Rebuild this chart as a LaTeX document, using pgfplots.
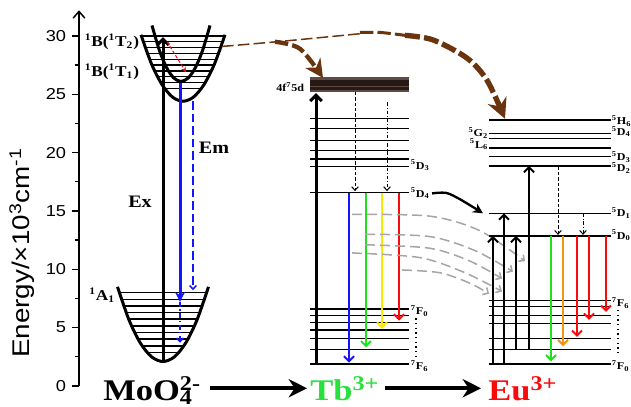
\documentclass[border=0pt]{standalone}
\usepackage{fontspec}
\setmainfont{Liberation Serif}[FakeStretch=1.15]
\setsansfont{Liberation Sans}[FakeStretch=1.15]
\usepackage{pgfplots}
\pgfplotsset{compat=1.18}
\usetikzlibrary{arrows.meta}
\definecolor{brn}{RGB}{105,52,14}
\definecolor{tbg}{RGB}{40,225,60}
\definecolor{myyel}{RGB}{255,232,0}
\definecolor{myorg}{RGB}{240,150,20}
\definecolor{mygrn}{RGB}{30,225,30}
\definecolor{myblue}{RGB}{20,20,255}
\definecolor{myred}{RGB}{250,10,10}
\definecolor{banddk}{RGB}{38,24,20}
\definecolor{bandlt}{RGB}{95,75,70}
\definecolor{gcurve}{RGB}{165,165,165}
\newcommand{\st}[3]{\textsuperscript{#1}#2\textsubscript{#3}}
\tikzset{
  barb/.style={-{Straight Barb[length=3pt,width=6pt]}},
  sbarb/.style={-{Straight Barb[length=2.2pt,width=4pt]}},
  lvl/.style={black, line width=0.85pt},
  lab/.style={font=\fontsize{6.3}{7}\selectfont\bfseries, inner sep=0.3pt},
}
\begin{document}
\begin{tikzpicture}
\begin{axis}[
  x=0.6pt, y=7pt,
  xmin=79, xmax=631, ymin=0, ymax=32.2,
  axis x line=none, axis y line=left,
  clip=false, unbounded coords=jump,
  axis line style={line width=0.9pt, -{Straight Barb[length=4pt,width=7pt]}},
  ytick={0,5,...,30}, minor ytick={2.5,7.5,...,27.5},
  tick align=outside, major tick length=4.2pt, minor tick length=2.6pt,
  every tick/.style={black, line width=0.8pt},
  yticklabel style={font=\fontsize{9.5}{11}\selectfont\sffamily},
  /pgf/number format/assume math mode=true,
  every axis plot post/.append style={mark=none},
]
% bounding box corners
\coordinate (BL) at (axis cs:0,-1.8);
\coordinate (TR) at (axis cs:631,33.08);

% ---------------- MoO4 part ----------------
\addplot[black, line width=1.8pt, smooth] coordinates {(117.5,8.49)(129,5.66)(140.25,3.69)(151.6,2.49)(163,2.09)(174.4,2.49)(185.75,3.69)(197,5.66)(208.5,8.49)};
\addplot[lvl] coordinates {(119.3,8.0)(206.7,8.0)(0,nan)(121.4,7.43)(204.6,7.43)(0,nan)(123.7,6.86)(202.3,6.86)(0,nan)(126.1,6.29)(199.9,6.29)(0,nan)(128.7,5.72)(197.3,5.72)(0,nan)(131.5,5.15)(194.5,5.15)(0,nan)(134.6,4.58)(191.4,4.58)(0,nan)(138.1,4.01)(187.9,4.01)(0,nan)(142.1,3.44)(183.9,3.44)(0,nan)(147.1,2.87)(178.9,2.87)};
\addplot[lvl] coordinates {(141.4,30.0)(224.6,30.0)(0,nan)(143.3,29.5)(222.7,29.5)(0,nan)(145.3,29.0)(220.7,29.0)(0,nan)(147.4,28.5)(218.6,28.5)(0,nan)(149.6,28.0)(216.4,28.0)(0,nan)(152,27.5)(214,27.5)(0,nan)(154.6,27.0)(211.4,27.0)(0,nan)(157.5,26.5)(208.5,26.5)(0,nan)(160.7,26.0)(205.3,26.0)(0,nan)(164.6,25.5)(201.4,25.5)};
\addplot[black, line width=1.8pt, smooth] coordinates {(141,30.1)(151.5,27.6)(162,25.83)(172.5,24.76)(183,24.4)(193.5,24.76)(204,25.83)(214.5,27.6)(225,30.1)};
\addplot[black, line width=1.8pt, smooth] coordinates {(152,30.9)(159.25,28.8)(166.5,27.3)(173.75,26.4)(181,26.1)(188.25,26.4)(195.5,27.3)(202.75,28.8)(210,30.9)};
\addplot[black, line width=1.8pt, -{Straight Barb[length=3.5pt,width=7pt]}] coordinates {(163,2.1)(163,29.9)};
\addplot[myblue, line width=1.8pt, -{Stealth[length=6pt,width=6pt]}] coordinates {(180,26.0)(180,7.2)};
\addplot[myblue, line width=0.9pt, dash pattern=on 5pt off 2.5pt, sbarb] coordinates {(193,24.4)(193,8.2)};
\addplot[myblue, line width=0.9pt, dash pattern=on 3pt off 1.5pt on 0.8pt off 1.5pt, sbarb] coordinates {(180,7.2)(180,3.7)};
\addplot[myred, line width=0.6pt, dash pattern=on 2pt off 1.2pt, -{Stealth[length=3pt,width=3pt]}] coordinates {(167,29.5)(186,26.9)};
\node[anchor=east, font=\fontsize{9}{10}\selectfont\bfseries, inner sep=1pt] at (axis cs:141,29.5) {\textsuperscript{1}B(\textsuperscript{1}T\textsubscript{2})};
\node[anchor=east, font=\fontsize{9}{10}\selectfont\bfseries, inner sep=1pt] at (axis cs:141,26.9) {\textsuperscript{1}B(\textsuperscript{1}T\textsubscript{1})};
\node[anchor=east, font=\fontsize{9}{10}\selectfont\bfseries, inner sep=1pt] at (axis cs:117,7.8) {\textsuperscript{1}A\textsubscript{1}};
\node[font=\fontsize{10.5}{12}\selectfont\bfseries] at (axis cs:140,15.8) {Ex};
\node[font=\fontsize{10.5}{12}\selectfont\bfseries] at (axis cs:214,20.4) {Em};
\node[rotate=90, font=\fontsize{14.5}{17}\selectfont\sffamily] at (axis cs:22,11.4) {Energy/×10\textsuperscript{3}cm\textsuperscript{-1}};

% brown transfer arrows
\addplot[brn, line width=0.9pt, smooth, dash pattern=on 7pt off 2.5pt] coordinates {(222,29.1)(283,29.55)(373,30.3)};
\addplot[brn, line width=2.6pt, smooth, dash pattern=on 8pt off 2.5pt, -{Stealth[length=11pt,width=11pt]}] coordinates {(275,29.5)(300,28.9)(323,26.4)};
\addplot[brn, line width=1.8pt, smooth, dash pattern=on 8pt off 2.5pt] coordinates {(360,30.3)(380,30.3)(405,30.05)};
\addplot[brn, line width=3.2pt, smooth, dash pattern=on 9pt off 2.5pt, -{Stealth[length=12pt,width=12pt]}] coordinates {(405,30.05)(433,29.66)(467,28.1)(487,26.2)(505,22.9)};

% ---------------- Tb part ----------------
\addplot[bandlt, line width=9pt] coordinates {(310,25.8)(409,25.8)};
\addplot[banddk, line width=6.5pt] coordinates {(310,25.8)(409,25.8)};
\addplot[bandlt, line width=0.6pt] coordinates {(310,25.7)(409,25.7)};
\node[lab, anchor=east] at (axis cs:305,25.6) {4f\textsuperscript{7}5d};
\addplot[lvl] coordinates {(310,22.94)(409,22.94)(0,nan)(310,22.08)(409,22.08)(0,nan)(310,21.03)(409,21.03)(0,nan)(310,20.17)(409,20.17)(0,nan)(310,19.46)(409,19.46)(0,nan)(310,18.8)(409,18.8)(0,nan)(310,16.57)(409,16.57)(0,nan)(310,6.6)(409,6.6)(0,nan)(310,6.03)(409,6.03)(0,nan)(310,5.46)(409,5.46)(0,nan)(310,4.8)(409,4.8)(0,nan)(310,4.09)(409,4.09)(0,nan)(310,3.14)(409,3.14)(0,nan)(310,1.89)(409,1.89)};
\addplot[black, line width=1.8pt, -{Straight Barb[length=3.5pt,width=7pt]}] coordinates {(316,1.89)(316,25.1)};
\addplot[black, line width=0.6pt, dash pattern=on 2pt off 1.2pt, sbarb] coordinates {(355,25.2)(355,16.7)};
\addplot[black, line width=0.6pt, dash pattern=on 2pt off 1.2pt on 0.5pt off 1.2pt, sbarb] coordinates {(387,24.3)(387,16.7)};
\addplot[myblue, line width=1.2pt, barb] coordinates {(349,16.57)(349,2.0)};
\addplot[mygrn, line width=1.2pt, barb] coordinates {(366,16.57)(366,3.3)};
\addplot[myyel, line width=1.2pt, barb] coordinates {(382,16.57)(382,4.9)};
\addplot[myred, line width=1.2pt, barb] coordinates {(399,16.57)(399,5.6)};
\node[lab, anchor=west] at (axis cs:410,18.9) {\st{5}{D}{3}};
\node[lab, anchor=west] at (axis cs:410,16.5) {\st{5}{D}{4}};
\node[lab, anchor=west] at (axis cs:410,6.4) {\st{7}{F}{0}};
\node[lab, anchor=west] at (axis cs:410,1.7) {\st{7}{F}{6}};
\addplot[black, line width=0.8pt, dotted] coordinates {(416,5.8)(416,2.5)};

% transfer Tb -> Eu
\addplot[black, line width=1.4pt, smooth, -{Stealth[length=6pt,width=6pt]}] coordinates {(432,16.5)(446,16.55)(460,16.0)(483,14.8)};
\addplot[gcurve, line width=0.9pt, smooth, dash pattern=on 6pt off 3pt, -{Straight Barb[length=2.5pt,width=5pt]}] coordinates {(352,14.7)(430,14.55)(480,13.3)(525,10.7)};
\addplot[gcurve, line width=0.9pt, smooth, dash pattern=on 6pt off 3pt, -{Straight Barb[length=2.5pt,width=5pt]}] coordinates {(365,13.0)(430,12.8)(475,11.6)(513,9.8)};
\addplot[gcurve, line width=0.9pt, smooth, dash pattern=on 6pt off 3pt, -{Straight Barb[length=2.5pt,width=5pt]}] coordinates {(365,12.1)(430,11.8)(470,10.7)(502,9.2)};
\addplot[gcurve, line width=0.9pt, smooth, dash pattern=on 6pt off 3pt, -{Straight Barb[length=2.5pt,width=5pt]}] coordinates {(352,11.4)(420,11.0)(465,9.7)(502,8.1)};
\addplot[gcurve, line width=0.9pt, smooth, dash pattern=on 6pt off 3pt, -{Straight Barb[length=2.5pt,width=5pt]}] coordinates {(402,9.94)(440,9.7)(470,8.8)(489,7.9)};

% ---------------- Eu part ----------------
\addplot[lvl] coordinates {(489,22.8)(611,22.8)(0,nan)(489,21.66)(611,21.66)(0,nan)(489,21.2)(611,21.2)(0,nan)(489,20.4)(611,20.4)(0,nan)(489,19.66)(611,19.66)(0,nan)(489,18.86)(611,18.86)(0,nan)(489,14.8)(611,14.8)(0,nan)(489,12.86)(611,12.86)(0,nan)(489,7.31)(611,7.31)(0,nan)(489,6.8)(611,6.8)(0,nan)(489,6.05)(611,6.05)(0,nan)(489,5.37)(611,5.37)(0,nan)(489,4.09)(611,4.09)(0,nan)(489,3.14)(611,3.14)(0,nan)(489,1.89)(611,1.89)};
\addplot[black, line width=1.2pt, barb] coordinates {(493,1.89)(493,12.86)};
\addplot[black, line width=1.2pt, barb] coordinates {(504,1.89)(504,14.8)};
\addplot[black, line width=1.2pt, barb] coordinates {(516,3.14)(516,12.86)};
\addplot[black, line width=1.2pt, barb] coordinates {(529,3.14)(529,18.86)};
\addplot[black, line width=0.6pt, dash pattern=on 2pt off 1.2pt, sbarb] coordinates {(558,18.8)(558,12.95)};
\addplot[black, line width=0.6pt, dash pattern=on 2pt off 1.2pt on 0.5pt off 1.2pt, sbarb] coordinates {(583,14.8)(583,12.95)};
\addplot[mygrn, line width=1.2pt, barb] coordinates {(551,12.86)(551,2.1)};
\addplot[myorg, line width=1.2pt, barb] coordinates {(563,12.86)(563,3.4)};
\addplot[myred, line width=1.2pt, barb] coordinates {(577,12.86)(577,4.2)};
\addplot[myred, line width=1.2pt, barb] coordinates {(589,12.86)(589,5.66)};
\addplot[myred, line width=1.2pt, barb] coordinates {(606,12.86)(606,6.34)};
\node[lab, anchor=west] at (axis cs:611,22.7) {\st{5}{H}{6}};
\node[lab, anchor=west] at (axis cs:611,21.8) {\st{5}{D}{4}};
\node[lab, anchor=west] at (axis cs:611,19.6) {\st{5}{D}{3}};
\node[lab, anchor=west] at (axis cs:611,18.7) {\st{5}{D}{2}};
\node[lab, anchor=west] at (axis cs:611,14.8) {\st{5}{D}{1}};
\node[lab, anchor=west] at (axis cs:611,12.9) {\st{5}{D}{0}};
\node[lab, anchor=west] at (axis cs:611,7.1) {\st{7}{F}{6}};
\node[lab, anchor=west] at (axis cs:611,1.7) {\st{7}{F}{0}};
\node[lab, anchor=east] at (axis cs:489,21.7) {\st{5}{G}{2}};
\node[lab, anchor=east] at (axis cs:489,20.7) {\st{5}{L}{6}};
\addplot[black, line width=0.8pt, dotted] coordinates {(618,6.5)(618,2.6)};

% ---------------- bottom labels ----------------
\node[anchor=base west, inner sep=0pt, font=\fontsize{18}{20}\selectfont\bfseries] at (axis cs:103,-1.25) {MoO\rlap{\textsubscript{4}}\textsuperscript{2-}};
\node[anchor=base west, inner sep=0pt, font=\fontsize{18}{20}\selectfont\bfseries, text=tbg] at (axis cs:310,-1.25) {Tb\textsuperscript{3+}};
\node[anchor=base west, inner sep=0pt, font=\fontsize{18}{20}\selectfont\bfseries, text=myred] at (axis cs:488,-1.25) {Eu\textsuperscript{3+}};
\addplot[black, line width=2.4pt, -{Stealth[length=11pt,width=11pt]}] coordinates {(210,-0.2)(307,-0.2)};
\addplot[black, line width=2.4pt, -{Stealth[length=11pt,width=11pt]}] coordinates {(385,-0.2)(481,-0.2)};
\end{axis}
\pgfresetboundingbox
\path[use as bounding box] (BL) rectangle (TR);
\end{tikzpicture}
\end{document}
